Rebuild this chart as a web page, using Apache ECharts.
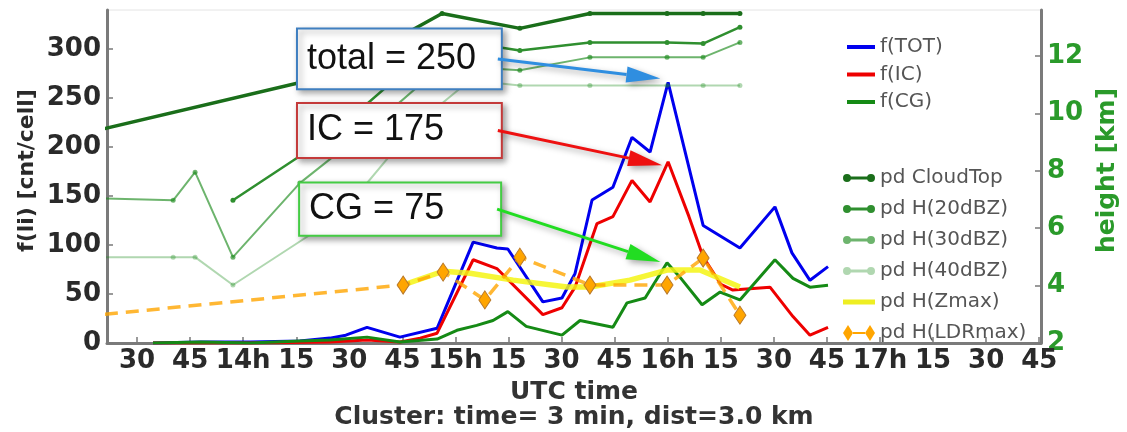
<!DOCTYPE html>
<html><head><meta charset="utf-8">
<script src="https://cdn.jsdelivr.net/npm/echarts@6/dist/echarts.min.js"></script>
<style>html,body{margin:0;padding:0;background:#fff}#c{width:1127px;height:432px}</style>
</head><body><div id="c"></div>
<script>
// time in minutes since 13:00 UTC
const timeTicks = [30,45,60,75,90,105,120,135,150,165,180,195,210,225,240,255,270,285];
const leftTicks = [0,50,100,150,200,250,300];
const rightTicks = [2,4,6,8,10,12];

// flash rates (cnt/cell), left axis
const totTime = [34.5,48,62,76,84.5,89,95,104.3,114.8,125,131.7,134.8,144.7,150.1,153.8,158.6,164.5,169.9,175,180.1,190,200.4,210.3,215.1,220.2,225.3];
const totVals = [0,1,1,2,5,8,16,6,15,103,97,96,42,46,71,146,159,210,195,266,120,97,139,92,64,78];
const icTime = [34.5,62,84.5,95,104.3,110,114.8,125,131.7,144.7,150.1,153.8,160,164.5,169.9,175,180.1,186,190,195,198.4,208.9,215.4,220.2,225.3];
const icVals = [0,0,1,3,1,5,10,85,76,29,36,57,122,129,166,144,185,129,88,60,54,57,27,8,16];
const cgTime = [34.5,48,62,76,84.5,95,104.3,114.8,120.4,126,130.6,134.8,140,150.1,155.2,164.5,168.5,173.6,179.8,183.5,189.7,194.8,200.4,210.3,215.4,220.2,225.3];
const cgVals = [0,1,0,2,3,6,1,4,13,18,23,32,17,8,23,16,41,46,82,67,39,52,44,85,66,57,59];

// heights (km), right axis
const ctTime = [15,84.5,116.2,138.2,158.0,179.8,190.0,200.4];
const ctVals = [9.30,11.32,13.48,12.96,13.48,13.48,13.48,13.48];
const h20Time = [57.1,84.5,116.2,138.2,158.0,179.8,190.0,200.4];
const h20Vals = [6.97,9.2,12.61,12.19,12.47,12.47,12.43,13.0];
const h30Time = [18.1,40.2,46.4,57.1,76.0,98.7,116.2,138.2,158.0,179.8,190.0,200.4];
const h30Vals = [7.04,6.97,7.95,4.99,7.57,9.79,11.67,11.5,11.95,11.95,11.95,12.47];
const h40Time = [18.1,40.2,46.4,57.1,87.4,108.6,124.1,138.2,158.0,179.8,190.0,200.4];
const h40Vals = [4.99,4.99,4.99,4.02,6.45,9.58,11.15,10.97,10.97,10.97,10.97,10.97];
const zmTime = [105.2,116.5,124.1,136.3,151.5,158.0,169.3,179.8,189.1,200.4];
const zmVals = [4.02,4.50,4.43,4.19,3.95,3.95,4.19,4.54,4.54,3.95];
const ldrTime = [15,105.2,116.5,128.3,138.2,158.0,179.8,190.0,200.4];
const ldrVals = [2.93,4.02,4.47,3.50,4.99,4.02,4.02,4.96,2.97];

// annotation boxes (data coords: [t0, vTop, t1, vBottom]) and arrow tips
const notes = [
  {text:'total = 250', box:[75.2,321,133.1,259], tip:[177.9,270], arrow:'#2f8ee0', border:'#3f7fc0'},
  {text:'IC = 175', box:[75.2,245,133.1,189], tip:[178.4,181.6], arrow:'#ee1111', border:'#c43a3a'},
  {text:'CG = 75', box:[75.8,164,132.9,109.5], tip:[177.9,82.6], arrow:'#22dd22', border:'#44cc44'}
];

const G = {left:107, right:86, top:10, bottom:89};
const W = 1127, H = 432;
const FONT = 'DejaVu Sans';
const pairs = (t, v) => t.map((x, i) => [x, v[i]]);
const fmtTime = m => (m % 60 === 0) ? (13 + m/60) + 'h' : String(m % 60);

const anchors = ' M0,0L0.05,0L0.05,0.05Z M31.95,15.95L32,15.95L32,16Z';
const dotIcon = 'path://M0,8A4,4 0 1 1 8,8A4,4 0 1 1 0,8Z M24,8A4,4 0 1 1 32,8A4,4 0 1 1 24,8Z M4,6.5L28,6.5L28,9.5L4,9.5Z' + anchors;
const barIcon = 'path://M0,5.5L32,5.5L32,10.5L0,10.5Z' + anchors;
const diaIcon = 'path://M0,8L5,0L10,8L5,16Z M22,8L27,0L32,8L27,16Z M10,7L22,7L22,9L10,9Z';

const chart = echarts.init(document.getElementById('c'), null, {renderer:'canvas'});
const axisGray = '#7a7a7a';
const green = '#2a9a2a';
const tickFont = {fontSize:26, fontWeight:'bold', fontFamily:FONT};

function fLine(name, t, v, color){
  return {name, type:'line', yAxisIndex:0, data:pairs(t,v), symbol:'none',
    lineStyle:{color, width:3}, itemStyle:{color}, z:2, animation:false};
}
function hLine(name, t, v, color, width){
  return {name, type:'line', yAxisIndex:1, data:pairs(t,v), symbol:'circle', symbolSize:5,
    showSymbol:true, lineStyle:{color, width}, itemStyle:{color}, z:3, animation:false};
}

const option = {
  animation:false,
  backgroundColor:'#fff',
  grid:{left:G.left, right:G.right, top:G.top, bottom:G.bottom, show:true, borderColor:'#e4e4e4', borderWidth:1},
  xAxis:{type:'value', min:21.5, max:285.5,
    axisLine:{lineStyle:{color:axisGray, width:3}},
    axisTick:{inside:true, length:6, customValues:timeTicks, lineStyle:{color:axisGray, width:1.5}},
    axisLabel:Object.assign({customValues:timeTicks, formatter:fmtTime, color:'#2a2a2a', margin:5}, tickFont),
    splitLine:{show:false}},
  yAxis:[
    {type:'value', min:0, max:340, position:'left',
     axisLine:{show:true, lineStyle:{color:axisGray, width:3}},
     axisTick:{show:true, inside:true, length:6, customValues:leftTicks, lineStyle:{color:axisGray, width:1.5}},
     axisLabel:Object.assign({customValues:leftTicks, color:'#2a2a2a', margin:6}, tickFont),
     splitLine:{show:false}},
    {type:'value', min:2, max:13.6, position:'right',
     axisLine:{show:true, lineStyle:{color:axisGray, width:3}},
     axisTick:{show:true, inside:true, length:6, customValues:rightTicks, lineStyle:{color:axisGray, width:1.5}},
     axisLabel:Object.assign({customValues:rightTicks, color:green, margin:6}, tickFont),
     splitLine:{show:false}}
  ],
  legend:[
    {data:['f(TOT)','f(IC)','f(CG)'], orient:'vertical', left:842, top:32, icon:'rect',
     itemWidth:28, itemHeight:4, itemGap:7.5, itemTextGap:15, selectedMode:false,
     textStyle:{fontSize:20, lineHeight:20, color:'#555', fontFamily:FONT}},
    {data:[{name:'pd CloudTop', icon:dotIcon},{name:'pd H(20dBZ)', icon:dotIcon},{name:'pd H(30dBZ)', icon:dotIcon},
           {name:'pd H(40dBZ)', icon:dotIcon},{name:'pd H(Zmax)', icon:barIcon},
           {name:'pd H(LDRmax)', icon:diaIcon, itemStyle:{color:'#ffa500', borderWidth:0}}],
     orient:'vertical', left:838, top:163, itemWidth:32, itemHeight:16, itemGap:11, itemTextGap:13, selectedMode:false,
     textStyle:{fontSize:20, lineHeight:20, color:'#555', fontFamily:FONT}}
  ],
  series:[
    fLine('f(TOT)', totTime, totVals, '#0000ee'),
    fLine('f(IC)', icTime, icVals, '#ee0000'),
    fLine('f(CG)', cgTime, cgVals, '#158a15'),
    hLine('pd CloudTop', ctTime, ctVals, '#1a6e1a', 3.5),
    hLine('pd H(20dBZ)', h20Time, h20Vals, '#2f8f2f', 2.5),
    hLine('pd H(30dBZ)', h30Time, h30Vals, 'rgba(30,140,30,0.65)', 2),
    hLine('pd H(40dBZ)', h40Time, h40Vals, 'rgba(30,140,30,0.35)', 2),
    {name:'pd H(Zmax)', type:'line', yAxisIndex:1, data:pairs(zmTime,zmVals), symbol:'none',
     lineStyle:{color:'rgba(245,245,20,0.85)', width:5.5}, itemStyle:{color:'#eeee22'}, z:4},
    {name:'pd H(LDRmax)', type:'line', yAxisIndex:1, data:pairs(ldrTime,ldrVals), symbol:'diamond', symbolSize:[12,18],
     lineStyle:{color:'rgba(255,165,0,0.8)', width:3.5, type:[13,8]},
     itemStyle:{color:'#ffa500', borderColor:'#b8782a', borderWidth:1}, z:5}
  ]
};
chart.setOption(option);

// annotations built from chart coordinates
const els = [];
const px = p => chart.convertToPixel({xAxisIndex:0, yAxisIndex:0}, p);
const shadow = {shadowBlur:6, shadowColor:'rgba(0,0,0,0.35)', shadowOffsetX:3, shadowOffsetY:3};
notes.forEach(n => {
  const a = px([n.box[0], n.box[1]]), b = px([n.box[2], n.box[3]]);
  const cy = (a[1] + b[1]) / 2;
  els.push({type:'rect', z:100, shape:{x:a[0], y:a[1], width:b[0]-a[0], height:b[1]-a[1]},
    style:Object.assign({fill:'#fff', stroke:n.border, lineWidth:2}, shadow)});
  els.push({type:'text', z:101, x:a[0]+10, y:cy,
    style:{text:n.text, fontSize:36, fontFamily:'Liberation Sans', fill:'#111', verticalAlign:'middle', align:'left'}});
  const s = [b[0]-4, cy], t = px(n.tip);
  const dx = t[0]-s[0], dy = t[1]-s[1], L = Math.hypot(dx, dy), ux = dx/L, uy = dy/L;
  const hl = 34, hw = 8;
  const bx = t[0]-ux*hl, by = t[1]-uy*hl;
  els.push({type:'line', z:102, shape:{x1:s[0], y1:s[1], x2:bx, y2:by},
    style:Object.assign({stroke:n.arrow, lineWidth:3}, shadow)});
  els.push({type:'polygon', z:102, shape:{points:[[t[0],t[1]],[bx-uy*hw, by+ux*hw],[bx+uy*hw, by-ux*hw]]},
    style:Object.assign({fill:n.arrow}, shadow)});
});
const cx = G.left + (W - G.left - G.right) / 2;
const cyPlot = G.top + (H - G.top - G.bottom) / 2;
els.push({type:'text', x:cx, y:392, style:{text:'UTC time', fontSize:25, fontWeight:'bold', fontFamily:FONT, fill:'#333', align:'center', verticalAlign:'middle'}});
els.push({type:'text', x:cx, y:417, style:{text:'Cluster: time= 3 min, dist=3.0 km', fontSize:25, fontWeight:'bold', fontFamily:FONT, fill:'#333', align:'center', verticalAlign:'middle'}});
els.push({type:'text', x:27, y:cyPlot-6, rotation:Math.PI/2, style:{text:'f(li) [cnt/cell]', fontSize:22, fontWeight:'bold', fontFamily:FONT, fill:'#2a2a2a', align:'center', verticalAlign:'middle'}});
els.push({type:'text', x:1107, y:cyPlot-6, rotation:Math.PI/2, style:{text:'height [km]', fontSize:25, fontWeight:'bold', fontFamily:FONT, fill:green, align:'center', verticalAlign:'middle'}});
chart.setOption({graphic:{elements:els}});
</script>
</body></html>
